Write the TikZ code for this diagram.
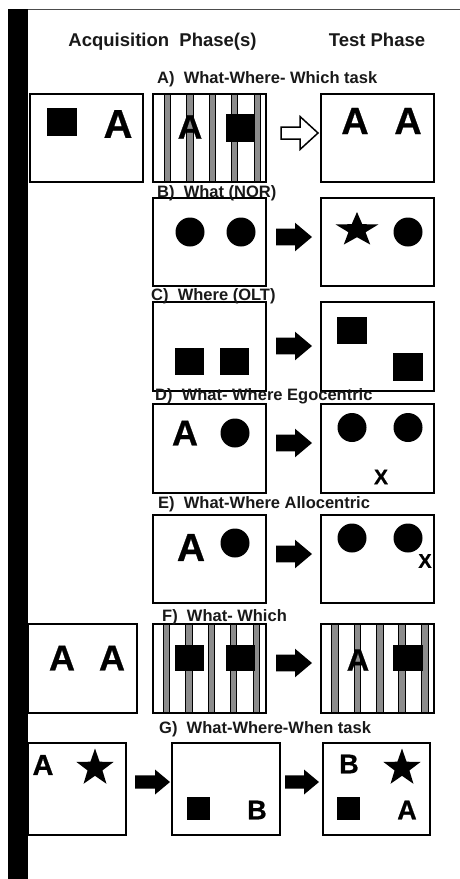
\documentclass[tikz,border=0pt]{standalone}
\usepackage{fontspec}
\setmainfont{Liberation Sans}
\newfontfamily\heavyfont{Liberation Sans Bold}[FakeBold=0.6]
\usetikzlibrary{calc}
\tikzset{
  panel/.style={draw=black, line width=1.2pt, inner sep=0pt, outer sep=0pt, anchor=north west, fill=white},
  big/.style={font=\heavyfont\fontsize{#1}{#1}\selectfont, inner sep=0pt, outer sep=0pt, anchor=center},
  lab/.style={font=\bfseries\fontsize{16.5}{16.5}\selectfont, anchor=base west, inner sep=0pt, text=black!90},
  head/.style={font=\bfseries\fontsize{18.5}{18.5}\selectfont, anchor=base, inner sep=0pt, text=black!90},
  stripe/.style={draw=black, fill=black!45, line width=0.7pt},
  obj/.style={fill=black},
}
\newcommand\panelbox[5]{\node[panel, minimum width=#4-#2, minimum height=#5-#3] (#1) at (#2,#3) {};}
\newcommand\stripes[3]{\foreach \c in {167.5,190,212.5,234.5,257.5}{\draw[stripe] ({\c+#1-3.25},#2) rectangle ({\c+#1+3.25},#3);}}
\newcommand\barrow[7][obj]{\path[#1] (#2,{#4-#5}) -- ({#3-#7},{#4-#5}) -- ({#3-#7},{#4-#6}) -- (#3,#4) -- ({#3-#7},{#4+#6}) -- ({#3-#7},{#4+#5}) -- (#2,{#4+#5}) -- cycle;}
\newcommand\drawstar[4]{\fill[shift={(#1,#2)}, xscale=#4] (90:#3pt) \foreach \a/\f in {126/0.4,162/1,198/0.4,234/1,270/0.4,306/1,342/0.4,18/1,54/0.4}{ -- (\a:{\f*#3pt})} -- cycle;}
\begin{document}
\begin{tikzpicture}[x=1pt, y=-1pt]
\useasboundingbox (0,0) rectangle (460,879);
\fill[white] (0,0) rectangle (460,879);

% headers
\node[head] (hacq) at (162.5,46.5) {Acquisition~~Phase(s)};
\node[head] (htest) at (377,46.5) {Test Phase};

% ---------- A ----------
\panelbox{a1}{30}{94}{143}{182}
\fill[obj] (47,108) rectangle (77,136);
\node[big=40] (a1A) at (118,124) {A};
\panelbox{a2}{153}{94}{266}{182}
\stripes{0}{94}{182}
\node[big=34] (a2A) at (190,127) {A};
\fill[obj] (226,114) rectangle (254,142);
\draw[line width=1.2pt] (153,94) rectangle (266,182);
\barrow[draw=black, line width=1.5pt, fill=white]{281}{318}{133}{6}{16.5}{18}
\panelbox{a3}{321}{94}{434}{182}
\node[big=38] (a3A1) at (355,121) {A};
\node[big=38] (a3A2) at (408,121) {A};

% ---------- B ----------
\panelbox{b1}{153}{198}{266}{286}
\fill[obj] (190,232) circle[radius=14.5pt];
\fill[obj] (241,232) circle[radius=14.5pt];
\barrow{276}{312}{237}{8.3}{14.3}{17}
\panelbox{b2}{321}{198}{434}{286}
\drawstar{357}{230}{18}{1.25}
\fill[obj] (408,232) circle[radius=14.5pt];

% ---------- C ----------
\panelbox{c1}{153}{302}{266}{391}
\fill[obj] (175,348) rectangle (204,375);
\fill[obj] (220,348) rectangle (249,375);
\barrow{276}{312}{346}{8.3}{14.3}{17}
\panelbox{c2}{321}{302}{434}{391}
\fill[obj] (337,317) rectangle (367,344);
\fill[obj] (393,353) rectangle (423,381);

% ---------- D ----------
\panelbox{d1}{153}{404}{266}{493}
\node[big=36] (d1A) at (185,433) {A};
\fill[obj] (235,433) circle[radius=14.5pt];
\barrow{276}{312}{443}{8.3}{14.3}{17}
\panelbox{d2}{321}{404}{434}{493}
\fill[obj] (352,427.5) circle[radius=14.5pt];
\fill[obj] (408,427.5) circle[radius=14.5pt];
\node[big=21] (d2X) at (381,477) {X};

% ---------- E ----------
\panelbox{e1}{153}{515}{266}{603}
\node[big=39] (e1A) at (191,547.5) {A};
\fill[obj] (235,543) circle[radius=14.5pt];
\barrow{276}{312}{554}{8.3}{14.3}{17}
\panelbox{e2}{321}{515}{434}{603}
\fill[obj] (352,538) circle[radius=14.5pt];
\fill[obj] (408,538) circle[radius=14.5pt];
\node[big=20] (e2X) at (425,561) {X};

% ---------- F ----------
\panelbox{f1}{28}{624}{137}{713}
\node[big=36] (f1A1) at (62,658) {A};
\node[big=36] (f1A2) at (112,658) {A};
\panelbox{f2}{153}{624}{266}{713}
\stripes{-1}{624}{713}
\fill[obj] (175,645) rectangle (204,671);
\fill[obj] (226,645) rectangle (255,671);
\draw[line width=1.2pt] (153,624) rectangle (266,713);
\barrow{276}{312}{663}{8.3}{14.3}{17}
\panelbox{f3}{321}{624}{434}{713}
\stripes{167.5}{624}{713}
\node[big=31] (f3A) at (358,660) {A};
\fill[obj] (393,645) rectangle (423,671);
\draw[line width=1.2pt] (321,624) rectangle (434,713);

% ---------- G ----------
\panelbox{g1}{28}{743}{126}{835}
\node[big=29] (g1A) at (43,765) {A};
\drawstar{95}{768}{19.5}{1}
\barrow{135}{170}{782}{6.7}{12.5}{15}
\panelbox{g2}{172}{743}{280}{835}
\fill[obj] (187,797) rectangle (210,820);
\node[big=27] (g2B) at (257,810) {B};
\barrow{285}{319}{782}{6.7}{12.5}{15}
\panelbox{g3}{323}{743}{430}{835}
\node[big=27] (g3B) at (349,764) {B};
\drawstar{402}{768}{19.5}{1}
\fill[obj] (337,797) rectangle (360,820);
\node[big=27] (g3A) at (407,810) {A};

% labels (drawn over the panel edges)
\node[lab] (la) at (157,83.3) {A)~~What-Where- Which task};
\node[lab] (lb) at (157,197) {B)~~What (NOR)};
\node[lab] (lc) at (151,300.7) {C)~~Where (OLT)};
\node[lab] (ld) at (155,400.7) {D)~~What- Where Egocentric};
\node[lab] (le) at (158,508.3) {E)~~What-Where Allocentric};
\node[lab] (lf) at (162,621) {F)~~What- Which};
\node[lab] (lg) at (159,733.3) {G)~~What-Where-When task};

% left bar and top rule
\draw[line width=0.6pt, black!70] (8,9) -- (460,9);
\fill[black] (8,9) rectangle (28,879);
\end{tikzpicture}
\end{document}
